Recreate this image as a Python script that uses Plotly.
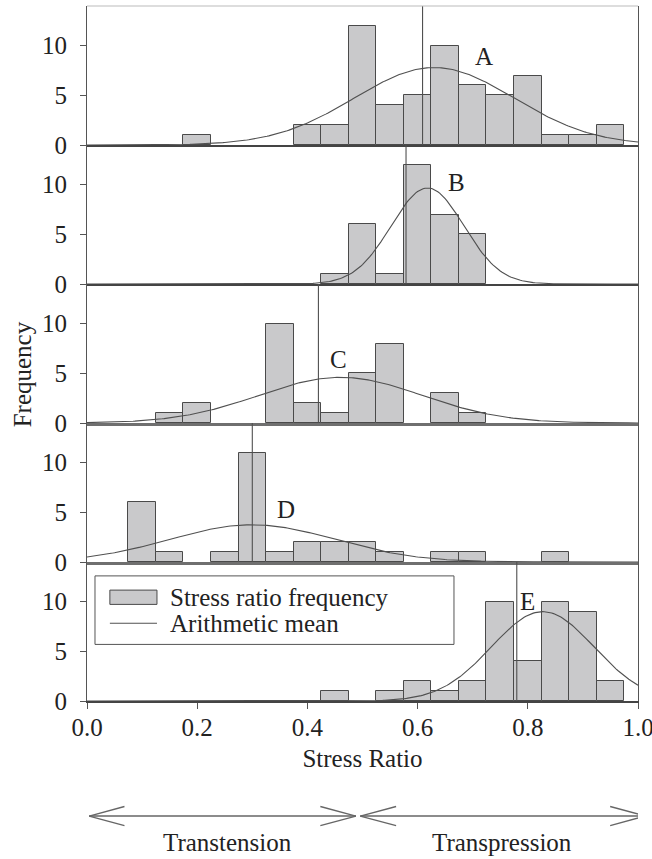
import numpy as np
import plotly.graph_objects as go
from plotly.subplots import make_subplots

# ---- data ----
bin_centers = [0.05, 0.10, 0.15, 0.20, 0.25, 0.30, 0.35, 0.40, 0.45, 0.50,
               0.55, 0.60, 0.65, 0.70, 0.75, 0.80, 0.85, 0.90, 0.95]
bin_width = 0.05
panel_labels = ["A", "B", "C", "D", "E"]
counts_A = [0, 0, 0, 1, 0, 0, 0, 2, 2, 12, 4, 5, 10, 6, 5, 7, 1, 1, 2]
counts_B = [0, 0, 0, 0, 0, 0, 0, 0, 1, 6, 1, 12, 7, 5, 0, 0, 0, 0, 0]
counts_C = [0, 0, 1, 2, 0, 0, 10, 2, 1, 5, 8, 0, 3, 1, 0, 0, 0, 0, 0]
counts_D = [0, 6, 1, 0, 1, 11, 1, 2, 2, 2, 1, 0, 1, 1, 0, 0, 1, 0, 0]
counts_E = [0, 0, 0, 0, 0, 0, 0, 0, 1, 0, 1, 2, 1, 2, 10, 4, 10, 9, 2]
mean_lines = [0.609, 0.579, 0.42, 0.30, 0.78]
curve_mu = [0.63, 0.618, 0.46, 0.30, 0.827]
curve_sd = [0.145, 0.066, 0.148, 0.15, 0.093]
curve_peak = [7.8, 9.67, 4.6, 3.75, 9.0]
label_x = [0.72, 0.67, 0.456, 0.362, 0.80]
label_y = [8.9, 10.2, 6.4, 5.3, 10.0]
x_ticks = [0.0, 0.2, 0.4, 0.6, 0.8, 1.0]
y_ticks = [0, 5, 10]

all_counts = [counts_A, counts_B, counts_C, counts_D, counts_E]

FONT = "Liberation Serif"
FS = 25
BAR_FILL = "#c9c9cb"
BAR_LINE = "#4a4a4a"
LINE_COL = "#505050"
AX_COL = "#555555"
TXT = "#222222"

fig = make_subplots(rows=5, cols=1, shared_xaxes=True, vertical_spacing=0)

xs = np.linspace(0, 1, 301)
for i in range(5):
    r = i + 1
    shown = [c if c > 0 else None for c in all_counts[i]]
    fig.add_trace(go.Bar(x=bin_centers, y=shown, width=bin_width,
                         marker=dict(color=BAR_FILL, line=dict(color=BAR_LINE, width=1)),
                         showlegend=False, hoverinfo="x+y"), row=r, col=1)
    curve = curve_peak[i] * np.exp(-(xs - curve_mu[i]) ** 2 / (2 * curve_sd[i] ** 2))
    fig.add_trace(go.Scatter(x=xs, y=curve, mode="lines",
                             line=dict(color=LINE_COL, width=1.1),
                             showlegend=False, hoverinfo="skip"), row=r, col=1)
    fig.add_trace(go.Scatter(x=[mean_lines[i], mean_lines[i]], y=[0, 14], mode="lines",
                             line=dict(color=LINE_COL, width=1.1),
                             showlegend=False, hoverinfo="skip"), row=r, col=1)
    fig.add_annotation(x=label_x[i], y=label_y[i], xref=f"x{r}" if r > 1 else "x",
                       yref=f"y{r}" if r > 1 else "y", text=panel_labels[i],
                       showarrow=False, font=dict(family=FONT, size=FS, color=TXT))
    fig.update_yaxes(row=r, col=1, range=[0, 14], tickvals=y_ticks, showline=True,
                     mirror=True, linecolor=AX_COL, linewidth=1, ticks="outside",
                     ticklen=6, tickcolor=AX_COL, showgrid=False, zeroline=False,
                     ticklabelstandoff=8, automargin=False,
                     tickfont=dict(family=FONT, size=FS, color=TXT))
    base_w = 3 if r in (3, 4) else 1.5
    base_c = "#6f6f6f" if r in (3, 4) else "#444444"
    fig.update_xaxes(row=r, col=1, range=[0, 1], showline=True, linecolor=base_c,
                     linewidth=base_w, showgrid=False, zeroline=False, automargin=False,
                     ticks="outside" if r == 5 else "", showticklabels=(r == 5))

fig.update_xaxes(row=5, col=1, tickvals=x_ticks, tickformat=".1f", ticklen=6,
                 tickcolor=AX_COL, ticklabelstandoff=-3, ticklabeloverflow="allow",
                 tickfont=dict(family=FONT, size=FS, color=TXT),
                 title=dict(text="Stress Ratio", standoff=10,
                            font=dict(family=FONT, size=FS, color=TXT)))

# top border of first panel (light)
fig.add_shape(type="line", xref="x domain", yref="paper", x0=0, x1=1, y0=1, y1=1,
              line=dict(color="#bbbbbb", width=1))

# ---- legend drawn inside panel E ----
fig.add_shape(type="rect", xref="x5", yref="y5", x0=0.0145, x1=0.666, y0=5.7, y1=12.6,
              line=dict(color=AX_COL, width=1), fillcolor="white", layer="above")
fig.add_shape(type="rect", xref="x5", yref="y5", x0=0.0415, x1=0.127, y0=9.73, y1=11.17,
              line=dict(color=BAR_LINE, width=1), fillcolor=BAR_FILL, layer="above")
fig.add_shape(type="line", xref="x5", yref="y5", x0=0.0415, x1=0.127, y0=7.83, y1=7.83,
              line=dict(color=LINE_COL, width=1.1), layer="above")
fig.add_annotation(x=0.147, y=10.45, xref="x5", yref="y5", text="Stress ratio frequency",
                   xanchor="left", showarrow=False, font=dict(family=FONT, size=FS, color=TXT))
fig.add_annotation(x=0.147, y=7.83, xref="x5", yref="y5", text="Arithmetic mean",
                   xanchor="left", showarrow=False, font=dict(family=FONT, size=FS, color=TXT))

# ---- y title ----
fig.add_annotation(x=0, y=0.47, xref="paper", yref="paper", xanchor="center",
                   xshift=-65, text="Frequency", textangle=-90, showarrow=False,
                   font=dict(family=FONT, size=FS, color=TXT))

# ---- Transtension / Transpression arrows ----
ay = -0.1655
hd = 0.0137
arrow_col = "#666666"
segments = [
    (0.004, ay, 0.488, ay),
    (0.004, ay, 0.068, ay + hd), (0.004, ay, 0.068, ay - hd),
    (0.488, ay, 0.4235, ay + hd), (0.488, ay, 0.4235, ay - hd),
    (0.496, ay, 1.0136, ay),
    (0.496, ay, 0.561, ay + hd), (0.496, ay, 0.561, ay - hd),
    (1.0136, ay, 0.9495, ay + hd), (1.0136, ay, 0.9495, ay - hd),
]
for (x0, y0, x1, y1) in segments:
    fig.add_shape(type="line", xref="x5", yref="paper", x0=x0, y0=y0, x1=x1, y1=y1,
                  line=dict(color=arrow_col, width=1.3))
fig.add_annotation(x=0.255, y=-0.2043, xref="x5", yref="paper", yanchor="middle",
                   text="Transtension", showarrow=False,
                   font=dict(family=FONT, size=FS, color=TXT))
fig.add_annotation(x=0.754, y=-0.2043, xref="x5", yref="paper", yanchor="middle",
                   text="Transpression", showarrow=False,
                   font=dict(family=FONT, size=FS, color=TXT))

fig.update_layout(width=652, height=859, margin=dict(l=87, r=14, t=6, b=158),
                  plot_bgcolor="white", paper_bgcolor="white", bargap=0,
                  showlegend=False, font=dict(family=FONT, color=TXT))

fig.write_html("out.html", config={"displayModeBar": False},
               post_script="document.body.style.margin='0';document.body.style.overflow='hidden';")
